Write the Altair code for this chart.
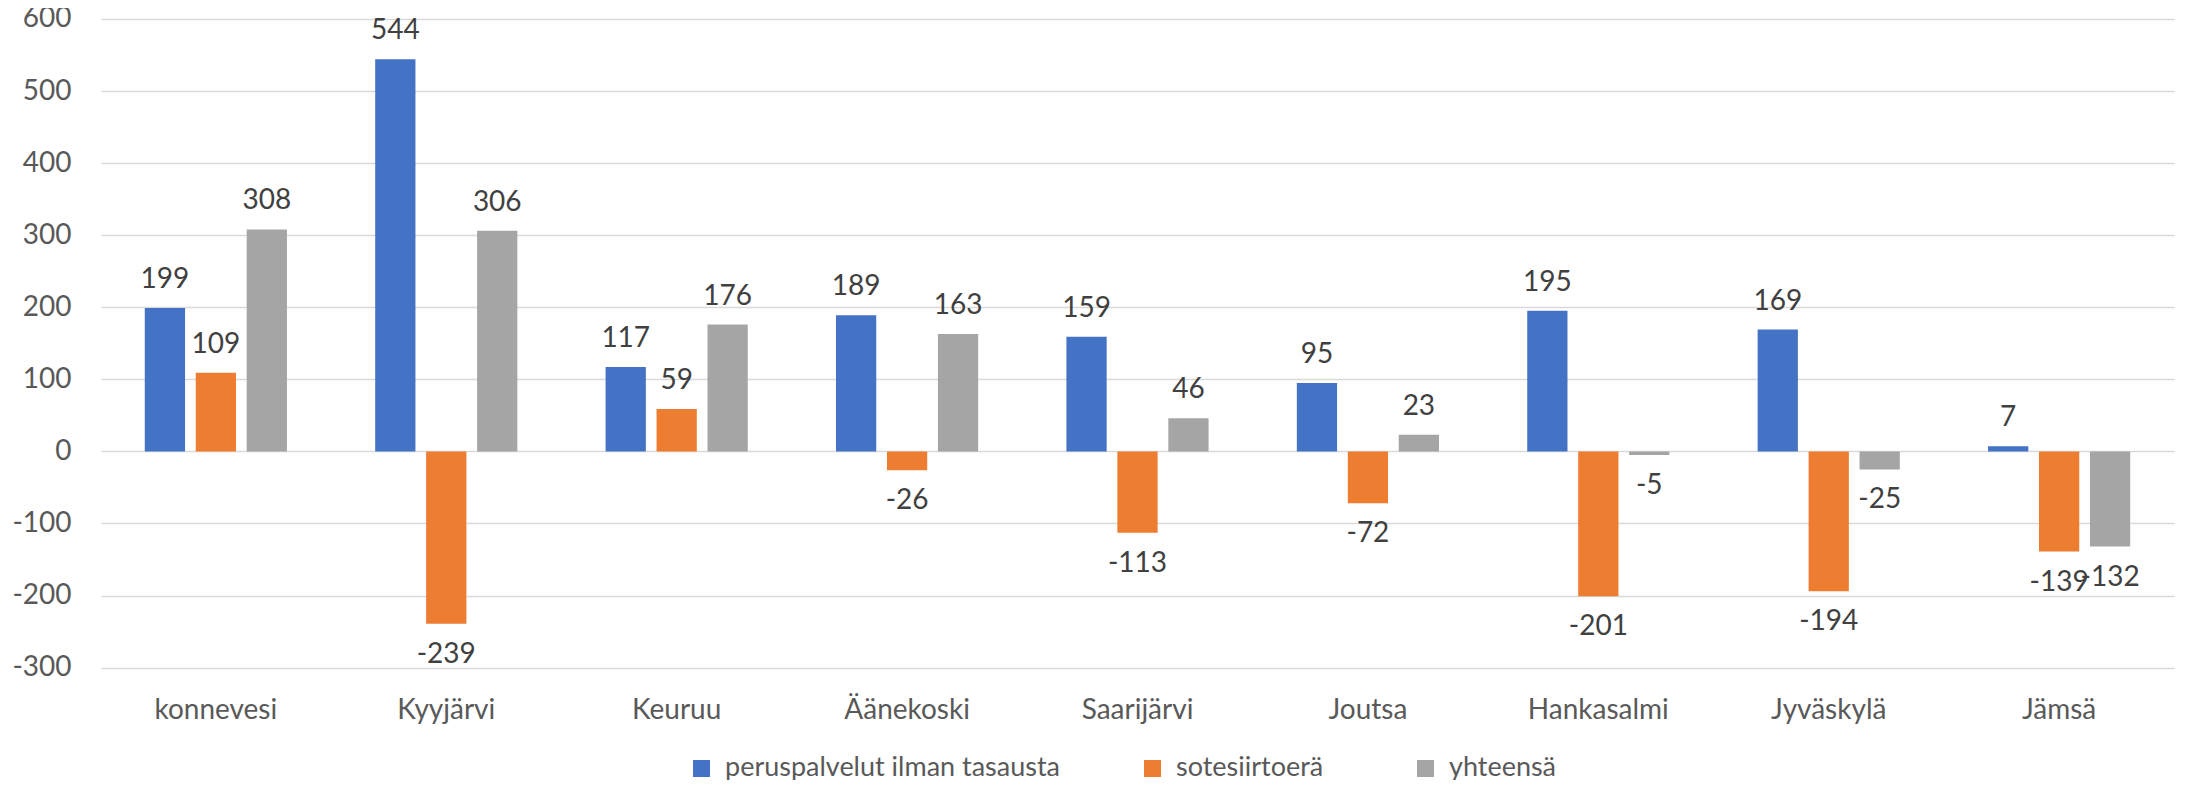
import altair as alt
import pandas as pd

categories = ["konnevesi", "Kyyjärvi", "Keuruu", "Äänekoski", "Saarijärvi",
              "Joutsa", "Hankasalmi", "Jyväskylä", "Jämsä"]
series = ["peruspalvelut ilman tasausta", "sotesiirtoerä", "yhteensä"]
peruspalvelut = [199, 544, 117, 189, 159, 95, 195, 169, 7]
sotesiirtoera = [109, -239, 59, -26, -113, -72, -201, -194, -139]
yhteensa = [308, 306, 176, 163, 46, 23, -5, -25, -132]
colors = ["#4472C4", "#ED7D31", "#A5A5A5"]
legend_x = [587, 1038, 1311]
y_ticks = [-300, -200, -100, 0, 100, 200, 300, 400, 500, 600]

rows = []
for s, vals in zip(series, [peruspalvelut, sotesiirtoera, yhteensa]):
    for c, v in zip(categories, vals):
        rows.append({"kunta": c, "sarja": s, "arvo": v})
df = pd.DataFrame(rows)

FONT = "Lato"
FS = 28

x_enc = alt.X("kunta:N", sort=categories, title=None,
              scale=alt.Scale(domain=categories, paddingInner=0.383, paddingOuter=0.19),
              axis=alt.Axis(labelAngle=0, domain=False, ticks=False, tickSize=0,
                            labelPadding=29, labelFont=FONT, labelFontSize=FS,
                            labelColor="#595959", grid=False))
xoff_enc = alt.XOffset("sarja:N", sort=series,
                       scale=alt.Scale(domain=series, paddingInner=0.21, paddingOuter=0))
y_enc = alt.Y("arvo:Q", title=None,
              scale=alt.Scale(domain=[-300, 600], nice=False, zero=True),
              axis=alt.Axis(values=y_ticks, domain=False, ticks=False, tickSize=0,
                            labelPadding=30, labelFont=FONT, labelFontSize=FS,
                            labelColor="#595959", gridColor="#D9D9D9",
                            gridWidth=1.5, labelExpr="toString(datum.value)"))

layers = []
for i, s in enumerate(series):
    layers.append(
        alt.Chart(df).transform_filter(alt.datum.sarja == s).mark_bar().encode(
            x=x_enc,
            xOffset=xoff_enc,
            y=y_enc,
            color=alt.Color("sarja:N", title=None,
                            scale=alt.Scale(domain=[s], range=[colors[i]]),
                            legend=alt.Legend(orient="none", direction="horizontal",
                                              legendX=legend_x[i], legendY=736,
                                              padding=0, offset=0,
                                              symbolType="square", symbolSize=289,
                                              symbolStrokeWidth=0, labelOffset=10,
                                              labelLimit=0,
                                              labelFont=FONT, labelFontSize=27,
                                              labelColor="#595959")),
        )
    )

base_text = alt.Chart(df).transform_calculate(teksti="toString(datum.arvo)")

pos = base_text.transform_filter("datum.arvo >= 0").mark_text(
    baseline="alphabetic", dy=-20, font=FONT, fontSize=FS, color="#404040"
).encode(x=alt.X("kunta:N", sort=categories), xOffset=alt.XOffset("sarja:N", sort=series),
         y="arvo:Q", text="teksti:N")

neg = base_text.transform_filter("datum.arvo < 0").mark_text(
    baseline="top", dy=17, font=FONT, fontSize=FS, color="#404040"
).encode(x=alt.X("kunta:N", sort=categories), xOffset=alt.XOffset("sarja:N", sort=series),
         y="arvo:Q", text="teksti:N")

chart = alt.layer(*layers, pos, neg).resolve_scale(color="independent").properties(
    width=2073, height=648.6,
    autosize=alt.AutoSizeParams(type="none"),
    padding={"left": 93, "top": 11, "right": 6, "bottom": 112},
).configure_view(stroke=None)

chart.save("out.html", embed_options={"renderer": "svg", "actions": False})
